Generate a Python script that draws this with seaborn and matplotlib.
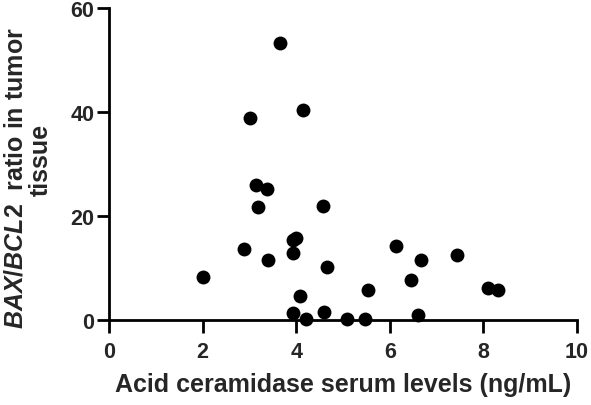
import numpy as np
import pandas as pd
import seaborn as sns
import matplotlib.pyplot as plt

# values
acid_ceramidase = [3.65, 4.15, 3.01, 3.14, 3.38, 3.19, 4.58, 3.99, 3.94, 3.93,
                   2.89, 3.40, 4.65, 2.00, 4.09, 3.94, 4.21, 4.59, 5.08, 5.48,
                   5.53, 6.13, 6.67, 6.45, 6.61, 7.43, 8.09, 8.31]
bax_bcl2 = [53.2, 40.4, 38.8, 26.0, 25.1, 21.7, 21.9, 15.7, 15.3, 12.9,
            13.7, 11.5, 10.1, 8.3, 4.7, 1.3, 0.1, 1.5, 0.1, 0.1,
            5.8, 14.2, 11.5, 7.6, 1.0, 12.5, 6.2, 5.8]
x_ticks = [0, 2, 4, 6, 8, 10]
y_ticks = [0, 20, 40, 60]

sns.set_style("ticks")
plt.rcParams['font.family'] = ['Liberation Sans', 'DejaVu Sans']
plt.rcParams['mathtext.fontset'] = 'custom'
plt.rcParams['mathtext.rm'] = 'Liberation Sans:bold'
plt.rcParams['mathtext.bf'] = 'Liberation Sans:bold'
plt.rcParams['mathtext.it'] = 'Liberation Sans:italic:bold'

df = pd.DataFrame({"ac": acid_ceramidase, "ratio": bax_bcl2})

fig = plt.figure(figsize=(5.91, 4.06), dpi=100)
ax = fig.add_axes([0.1844, 0.2094, 0.7919, 0.7686])
sns.scatterplot(data=df, x="ac", y="ratio", ax=ax, color="black", s=100,
                edgecolor="black", linewidth=0, clip_on=False, zorder=3)

ax.set_xlim(0, 10)
ax.set_ylim(0, 60)
ax.set_xticks(x_ticks)
ax.set_yticks(y_ticks)
for lab in ax.get_xticklabels() + ax.get_yticklabels():
    lab.set_fontweight("bold")
    lab.set_fontsize(15.5)
ax.tick_params(width=2, length=9, color="black")
ax.tick_params(axis="x", pad=6)
ax.tick_params(axis="y", pad=1.5)
sns.despine(ax=ax)
for sp in ["left", "bottom"]:
    ax.spines[sp].set_linewidth(2)
    ax.spines[sp].set_color("black")

ax.set_xlabel("Acid ceramidase serum levels (ng/mL)", fontsize=18,
              fontweight="bold", labelpad=7)
ax.set_ylabel("")
fig.text(0.027, 0.56, r"$\mathit{BAX/BCL2}$  ratio in tumor", rotation=90,
         ha="center", va="center", fontsize=18, fontweight="bold")
fig.text(0.069, 0.606, "tissue", rotation=90, ha="center", va="center",
         fontsize=18, fontweight="bold")

plt.savefig("out.png", dpi=100)
